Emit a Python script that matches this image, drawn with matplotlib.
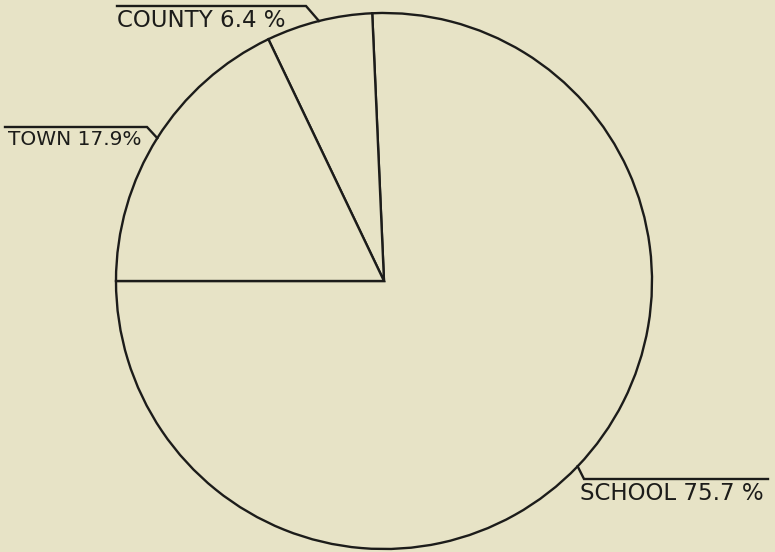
import matplotlib.pyplot as plt
import numpy as np

labels = ['SCHOOL', 'COUNTY', 'TOWN']
shares = [75.7, 6.4, 17.9]
pct_text = ['75.7 %', '6.4 %', '17.9%']

W, H = 775, 552
bg = '#e7e3c6'
ink = '#1c1c1a'

fig = plt.figure(figsize=(W / 100, H / 100), dpi=100)
fig.patch.set_facecolor(bg)
ax = fig.add_axes([0, 0, 1, 1])
ax.set_facecolor(bg)

# pixel-ish coordinates, y up
cx, cy, r = 384, H - 281, 268
wedges, _ = ax.pie(shares, startangle=180, counterclock=True, center=(cx, cy),
                   radius=r, colors=[bg] * 3,
                   wedgeprops=dict(edgecolor=ink, linewidth=1.7))
ax.set_xlim(0, W)
ax.set_ylim(0, H)
ax.set_aspect('equal')
ax.axis('off')

# leader layout: knee point (x, y from top), end x of the rule, text x, font size
layout = {
    'SCHOOL': (584, 479, 768, 580, 16.5),
    'COUNTY': (306, 6, 117, 117, 16.5),
    'TOWN': (147, 127, 5, 8, 14.5),
}

for w, lab, txt in zip(wedges, labels, pct_text):
    mid = np.deg2rad((w.theta1 + w.theta2) / 2)
    ex, ey = cx + r * np.cos(mid), cy + r * np.sin(mid)
    kx, ky, endx, tx, fs = layout[lab]
    ky = H - ky
    ax.plot([ex, kx, endx], [ey, ky, ky], color=ink, lw=1.7,
            solid_joinstyle='miter')
    ax.text(tx, ky - 3, f'{lab} {txt}', ha='left', va='top',
            fontsize=fs, color=ink, family='DejaVu Sans')

fig.savefig('out.png', dpi=100, facecolor=bg)
